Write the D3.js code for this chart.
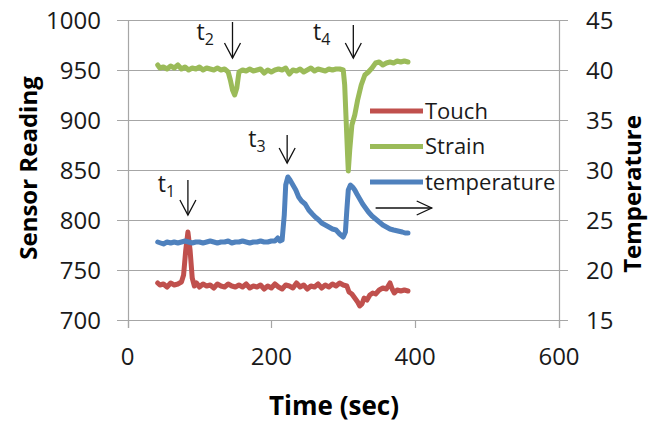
<!DOCTYPE html>
<html><head><meta charset="utf-8">
<script src="https://cdn.jsdelivr.net/npm/d3@7"></script>
<style>
html,body{margin:0;padding:0;background:#fff;}
svg{display:block;font-family:"Open Sans",sans-serif;}
</style></head>
<body><svg id="chart" width="653" height="423"></svg>
<script>
// ---- data ----
const xTicks = [0, 200, 400, 600];
const yLeftTicks = [700, 750, 800, 850, 900, 950, 1000];
const yRightTicks = [15, 20, 25, 30, 35, 40, 45];
const seriesNames = ["Touch", "Strain", "temperature"];
const seriesColors = ["#C0504D", "#9BBB59", "#4F81BD"];

const touchT = [42,45,50,55,60,65,70,75,78,81,84,87,90,93,96,100,105,110,115,120,125,130,135,140,145,150,155,160,165,170,175,180,185,190,195,200,205,210,215,220,225,230,235,240,245,250,255,260,265,270,275,280,285,290,295,300,305,308,312,316,320,323,326,329,333,337,341,345,350,355,360,365,368,371,375,380,385,390];
const touchV = [737,735,736,733,737,735,736,738,745,770,788,770,742,734,737,733,736,734,735,732,736,734,733,736,734,733,735,733,736,732,734,733,735,731,734,732,736,733,731,735,734,732,737,733,735,731,734,733,736,732,735,733,736,734,737,735,734,728,726,722,718,714,716,722,720,725,727,726,730,732,731,737,731,727,730,729,730,729];

const strainT = [42,45,50,55,60,65,70,75,80,85,90,95,100,105,110,115,120,125,130,135,140,143,146,149,152,155,160,165,170,175,180,185,190,195,200,205,210,215,220,225,230,235,240,245,250,255,260,265,270,275,280,285,290,295,300,302,304,306,307,309,312,316,320,325,330,335,340,345,350,355,360,365,370,375,380,385,390];
const strainV = [955,952,953,951,954,952,955,951,953,950,952,951,953,950,952,951,950,952,950,951,948,940,930,925,932,948,950,949,951,949,950,951,947,950,948,950,951,950,952,946,950,949,951,948,950,952,949,951,950,949,951,950,951,951,950,935,900,865,849,870,895,905,920,935,945,948,952,957,958,955,957,958,957,959,958,959,958];

const tempT = [42,46,50,55,60,65,70,75,80,85,90,95,100,105,110,115,120,125,130,135,140,145,150,155,160,165,170,175,180,185,190,195,200,205,209,212,215,218,220,223,226,230,234,238,242,247,252,257,261,266,270,275,280,285,290,295,300,303,305,307,310,313,316,319,323,327,331,335,340,345,350,355,360,365,370,376,382,386,390];
const tempV = [22.8,22.7,22.6,22.8,22.7,22.8,22.7,22.8,22.9,22.8,22.7,22.8,22.8,22.7,22.8,22.9,22.8,22.7,22.8,22.8,22.9,22.7,22.8,22.8,22.9,22.8,22.7,22.8,22.8,22.9,22.8,22.8,22.9,22.9,23.2,22.9,23.0,25.5,28.5,29.3,29.0,28.5,28.0,27.3,26.9,26.6,26.0,25.6,25.3,25.0,24.7,24.5,24.3,24.1,24.0,23.6,23.3,23.8,26.0,28.0,28.5,28.3,28.0,27.6,27.1,26.6,26.2,25.8,25.4,25.1,24.8,24.5,24.3,24.1,24.0,23.9,23.8,23.7,23.7];

// annotations in data coordinates (time, sensor reading)
const markLabels = ["1", "2", "3", "4"];
const markLabelT = [42, 96, 168, 258];
const markLabelV = [828, 980, 873, 980];
const markArrowT = [84, 146, 222, 314];
const markArrowTop = [840, 998, 885, 995];
const markArrowBottom = [805, 962, 857, 962];
const rightArrowT = [345, 423];
const rightArrowV = 812;

// ---- chart ----
const svg = d3.select("#chart");
const x = d3.scaleLinear().domain([0, 600]).range([127.5, 559]);
const yL = d3.scaleLinear().domain([700, 1000]).range([320, 20]);
const yR = d3.scaleLinear().domain([15, 45]).range([320, 20]);
const gridColor = "#A6A6A6";

// gridlines with outer ticks
svg.append("g").selectAll("line").data(yLeftTicks).join("line")
  .attr("x1", 117).attr("x2", 568)
  .attr("y1", d => Math.round(yL(d)) + 0.5).attr("y2", d => Math.round(yL(d)) + 0.5)
  .attr("stroke", gridColor).attr("stroke-width", 1.2);
// vertical axes
[0, 600].forEach(v => {
  svg.append("line").attr("x1", Math.round(x(v)) + 0.5).attr("x2", Math.round(x(v)) + 0.5)
    .attr("y1", 20).attr("y2", 328).attr("stroke", gridColor).attr("stroke-width", 1.2);
});
// x ticks
svg.append("g").selectAll("line").data(xTicks).join("line")
  .attr("x1", d => Math.round(x(d)) + 0.5).attr("x2", d => Math.round(x(d)) + 0.5)
  .attr("y1", 320).attr("y2", 328).attr("stroke", gridColor).attr("stroke-width", 1.2);

// tick labels
svg.append("g").selectAll("text").data(yLeftTicks).join("text")
  .attr("x", 101).attr("y", d => yL(d)).attr("dy", "0.36em")
  .attr("text-anchor", "end").attr("font-size", 24).attr("fill", "#1a1a1a").text(d => d);
svg.append("g").selectAll("text").data(yRightTicks).join("text")
  .attr("x", 586).attr("y", d => yR(d)).attr("dy", "0.36em")
  .attr("text-anchor", "start").attr("font-size", 24).attr("fill", "#1a1a1a").text(d => d);
svg.append("g").selectAll("text").data(xTicks).join("text")
  .attr("x", d => x(d)).attr("y", 365)
  .attr("text-anchor", "middle").attr("font-size", 24).attr("fill", "#1a1a1a").text(d => d);

// axis titles
svg.append("text").attr("transform", "translate(37,168) rotate(-90)")
  .attr("text-anchor", "middle").attr("font-size", 24).attr("font-weight", "bold").text("Sensor Reading");
svg.append("text").attr("transform", "translate(641,194) rotate(-90)")
  .attr("text-anchor", "middle").attr("font-size", 24).attr("font-weight", "bold").text("Temperature");
svg.append("text").attr("x", 334).attr("y", 415)
  .attr("text-anchor", "middle").attr("font-size", 26).attr("font-weight", "bold").text("Time (sec)");

// series
const lineL = d3.line().x(d => x(d[0])).y(d => yL(d[1])).curve(d3.curveLinear);
const lineR = d3.line().x(d => x(d[0])).y(d => yR(d[1])).curve(d3.curveLinear);
const touch = d3.zip(touchT, touchV);
const strain = d3.zip(strainT, strainV);
const temp = d3.zip(tempT, tempV);
svg.append("path").attr("d", lineL(touch)).attr("fill", "none").attr("stroke", seriesColors[0])
  .attr("stroke-width", 5).attr("stroke-linejoin", "round").attr("stroke-linecap", "round");
svg.append("path").attr("d", lineL(strain)).attr("fill", "none").attr("stroke", seriesColors[1])
  .attr("stroke-width", 5).attr("stroke-linejoin", "round").attr("stroke-linecap", "round");
svg.append("path").attr("d", lineR(temp)).attr("fill", "none").attr("stroke", seriesColors[2])
  .attr("stroke-width", 5).attr("stroke-linejoin", "round").attr("stroke-linecap", "round");

// legend
const lg = svg.append("g");
seriesNames.forEach((name, i) => {
  const yy = 111 + i * 35.5;
  lg.append("line").attr("x1", 370).attr("x2", 423).attr("y1", yy).attr("y2", yy)
    .attr("stroke", seriesColors[i]).attr("stroke-width", 5);
  lg.append("text").attr("x", 425).attr("y", yy).attr("dy", "0.36em")
    .attr("font-size", 22).attr("fill", "#1a1a1a").text(name);
});

// annotations
const ann = svg.append("g");
markLabels.forEach((s, i) => {
  const t = ann.append("text").attr("x", x(markLabelT[i])).attr("y", yL(markLabelV[i]))
    .attr("font-size", 23).attr("fill", "#1a1a1a");
  t.append("tspan").text("t");
  t.append("tspan").attr("font-size", 16).attr("dy", 5).text(s);
  const ax = x(markArrowT[i]), y0 = yL(markArrowTop[i]), y1 = yL(markArrowBottom[i]);
  ann.append("line").attr("x1", ax).attr("x2", ax).attr("y1", y0).attr("y2", y1)
    .attr("stroke", "#111").attr("stroke-width", 1.3);
  ann.append("path").attr("d", `M${ax - 8},${y1 - 15}L${ax},${y1}L${ax + 8},${y1 - 15}`)
    .attr("fill", "none").attr("stroke", "#111").attr("stroke-width", 1.3);
});
{
  const xa = x(rightArrowT[0]), xb = x(rightArrowT[1]), ya = yL(rightArrowV);
  ann.append("line").attr("x1", xa).attr("x2", xb).attr("y1", ya).attr("y2", ya)
    .attr("stroke", "#111").attr("stroke-width", 1.3);
  ann.append("path").attr("d", `M${xb - 15},${ya - 7}L${xb},${ya}L${xb - 15},${ya + 7}`)
    .attr("fill", "none").attr("stroke", "#111").attr("stroke-width", 1.3);
}
</script></body></html>
